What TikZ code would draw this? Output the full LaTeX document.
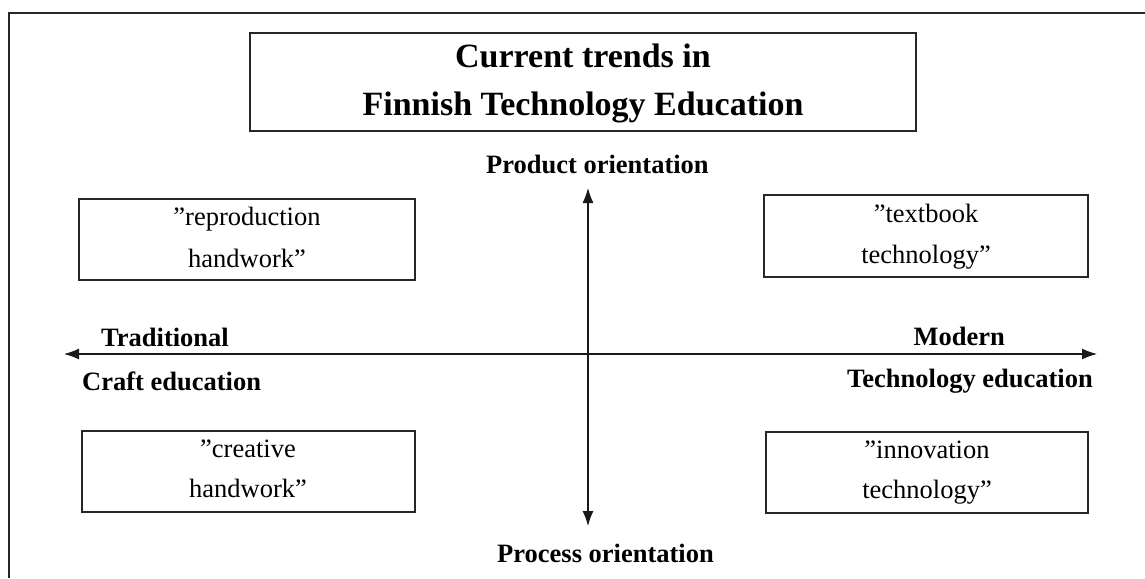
\documentclass[tikz,border=0pt]{standalone}
\usepackage{fontspec}
\setmainfont{Liberation Serif}
\usetikzlibrary{arrows.meta}
\begin{document}
\begin{tikzpicture}[x=1pt,y=-1pt,
  frame/.style={draw=black!85,line width=1.4pt},
  boxline/.style={draw=black!85,line width=1.3pt},
  titletxt/.style={font=\fontsize{34}{40}\selectfont\bfseries,inner sep=0pt},
  axislbl/.style={font=\fontsize{26.5}{30}\selectfont\bfseries,inner sep=0pt},
  boxtxt/.style={font=\fontsize{26.5}{30}\selectfont,inner sep=0pt,anchor=base},
  axis/.style={draw=black!90,line width=1.2pt,{Latex[length=15pt,width=11pt]}-{Latex[length=15pt,width=11pt]}}]
\useasboundingbox (0,0) rectangle (1145,578);
\fill[white] (0,0) rectangle (1145,578);
% outer frame (only left and top edges visible)
\coordinate (fbl) at (9,578);
\coordinate (ftl) at (9,13);
\coordinate (ftr) at (1145,13);
\draw[frame] (fbl) -- (ftl) -- (ftr);
% title box
\draw[boxline] (250,33) rectangle (916,131);
\node[titletxt,anchor=base] (t1) at (583,67) {Current trends in};
\node[titletxt,anchor=base] (t2) at (583,115) {Finnish Technology Education};
% quadrant boxes
\draw[boxline] (79,199) rectangle (415,280);
\node[boxtxt] (a1) at (247,225) {”reproduction};
\node[boxtxt] (a2) at (247,267) {handwork”};
\draw[boxline] (764,195) rectangle (1088,277);
\node[boxtxt] (b1) at (926,222) {”textbook};
\node[boxtxt] (b2) at (926,263) {technology”};
\draw[boxline] (82,431) rectangle (415,512);
\node[boxtxt] (c1) at (248,457) {”creative};
\node[boxtxt] (c2) at (248,497) {handwork”};
\draw[boxline] (766,432) rectangle (1088,513);
\node[boxtxt] (d1) at (927,458) {”innovation};
\node[boxtxt] (d2) at (927,498) {technology”};
% axes
\coordinate (top) at (588,188);
\coordinate (bot) at (588,526);
\coordinate (left) at (64,354);
\coordinate (right) at (1097,354);
\draw[axis] (top) -- (bot);
\draw[axis] (left) -- (right);
% axis labels
\node[axislbl,anchor=base west] (po) at (486,173) {Product orientation};
\node[axislbl,anchor=base west] (pr) at (497,562) {Process orientation};
\node[axislbl,anchor=base west] (tr) at (101,346) {Traditional};
\node[axislbl,anchor=base west] (ce) at (82,390) {Craft education};
\node[axislbl,anchor=base east] (mo) at (1005,345) {Modern};
\node[axislbl,anchor=base east] (te) at (1093,387) {Technology education};
\end{tikzpicture}
\end{document}
